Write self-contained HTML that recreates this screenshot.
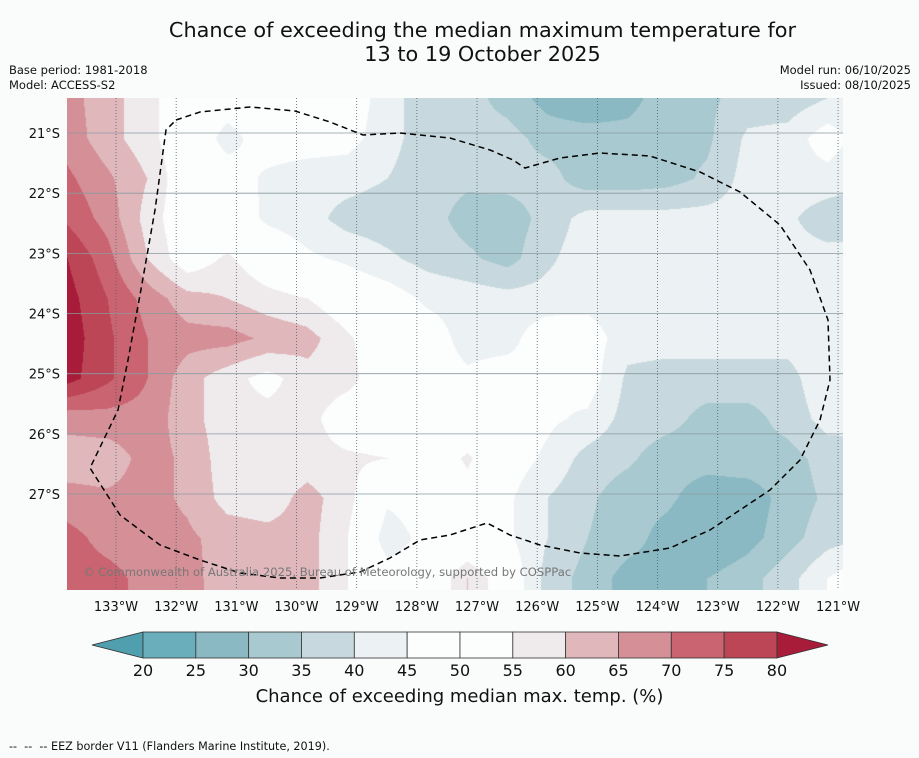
<!DOCTYPE html>
<html><head><meta charset="utf-8"><style>
body{margin:0;background:#fafbfb;font-family:"DejaVu Sans","Liberation Sans",sans-serif;}
#root{position:relative;width:919px;height:758px;overflow:hidden;background:#fafbfb;}
.t{position:absolute;color:#111;white-space:nowrap;}
</style></head><body>
<div id="root">
<div class="t" style="left:0;width:965px;top:18px;text-align:center;font-size:20.8px;line-height:24px;">Chance of exceeding the median maximum temperature for<br>13 to 19 October 2025</div>
<div class="t" style="left:9px;top:63px;font-size:11.5px;line-height:15px;">Base period: 1981-2018<br>Model: ACCESS-S2</div>
<div class="t" style="right:8px;top:63px;font-size:11.5px;line-height:15px;text-align:right;">Model run: 06/10/2025<br>Issued: 08/10/2025</div>
<canvas id="map" width="776" height="492" style="position:absolute;left:67px;top:98px;"></canvas>
<svg id="ov" width="919" height="758" style="position:absolute;left:0;top:0;font-family:'DejaVu Sans','Liberation Sans',sans-serif;"></svg>
<div class="t" style="left:83px;top:565px;font-size:11.6px;color:#777;">© Commonwealth of Australia 2025, Bureau of Meteorology, supported by COSPPac</div>
<div class="t" style="left:0;width:919px;top:686px;text-align:center;font-size:18px;">Chance of exceeding median max. temp. (%)</div>
<div class="t" style="left:9px;top:740px;font-size:11.2px;">--&nbsp; --&nbsp; -- EEZ border V11 (Flanders Marine Institute, 2019).</div>
</div>
<script>
const nodeLon=[67,107,147,187,227,267,307,347,387,427,467,507,547,587,627,667,707,747,787,827,867];
const nodeLat=[98,138,178,218,258,298,338,378,418,458,498,538,578,618];
const row0=[67,62,57,50,48,50,50,49,42,37,37,33,28,25,28,33,34,37,37,40,40];
const row1=[68,62,57,50,43,48,48,47,42,37,37,37,33,33,32,33,34,41,42,48,42];
const row2=[71,66,60,50,48,44,42,42,40,37,36,37,37,32,32,33,36,42,43,43,40];
const row3=[74,68,58,50,49,44,42,38,37,37,33,32,37,42,42,42,42,42,41,37,37];
const row4=[80,72,60,51,56,50,46,44,41,38,36,33,39,43,42,42,42,42,42,42,42];
const row5=[82,75,68,62,60,57,55,50,48,44,43,42,42,43,42,42,42,42,42,42,42];
const row6=[83,76,70,67,67,64,62,56,50,48,43,43,49,48,42,42,42,42,42,44,42];
const row7=[82,76,70,62,57,53,58,57,50,48,46,48,45,48,39,38,38,38,38,44,43];
const row8=[67,68,68,62,57,57,57,51,50,48,48,48,46,44,38,37,33,33,37,42,42];
const row9=[62,62,67,64,57,57,57,56,55,50,56,48,44,38,36,32,32,33,33,37,38];
const row10=[67,66,67,64,58,57,62,57,46,48,52,46,40,36,32,31,27,27,32,36,37];
const row11=[72,68,67,66,63,62,62,55,42,47,48,46,40,35,32,28,25,28,33,38,40];
const row12=[73,72,68,67,62,62,62,55,48,48,60,50,38,33,28,28,30,33,38,45,50];
const row13=[73,72,68,67,62,62,62,55,48,48,60,50,38,33,28,28,30,33,38,45,50];
const grid=[row0,row1,row2,row3,row4,row5,row6,row7,row8,row9,row10,row11,row12,row13];
const levels=[20,25,30,35,40,45,50,55,60,65,70,75,80];
const bandColors=["#4f9fae","#6aaebb","#8ab9c3","#a8c9cf","#c7d9de","#ecf1f3","#fcfdfd","#fcfdfd","#efebec","#e0b8bc","#d58f97","#c96470","#bd4656","#a81c3a"];
const cbLabels=["20","25","30","35","40","45","50","55","60","65","70","75","80"];
const lonTicks=["133°W","132°W","131°W","130°W","129°W","128°W","127°W","126°W","125°W","124°W","123°W","122°W","121°W"];
const latTicks=["21°S","22°S","23°S","24°S","25°S","26°S","27°S"];
const eezLon=[176,200,250,295,330,363,400,450,490,513,525,560,600,650,700,740,780,810,828,830,820,800,770,740,710,670,620,580,540,510,487,450,420,390,360,320,280,240,200,160,120,90,118,128,140,155,166,176];
const eezLat=[120,112,107,111,122,135,133,138,150,160,168,158,153,156,172,192,225,270,320,380,420,460,490,510,530,548,556,553,545,535,523,535,540,558,572,578,578,573,560,545,515,468,410,360,295,210,130,120];

function hex(c){return [parseInt(c.slice(1,3),16),parseInt(c.slice(3,5),16),parseInt(c.slice(5,7),16)];}
function band(v){let b=0;for(let i=0;i<levels.length;i++){if(v>=levels[i])b=i+1;}return b;}
function valAt(px,py){
  let i=0;while(i<nodeLon.length-2&&px>nodeLon[i+1])i++;
  let j=0;while(j<nodeLat.length-2&&py>nodeLat[j+1])j++;
  const tx=Math.min(1,Math.max(0,(px-nodeLon[i])/(nodeLon[i+1]-nodeLon[i])));
  const ty=Math.min(1,Math.max(0,(py-nodeLat[j])/(nodeLat[j+1]-nodeLat[j])));
  const a=grid[j][i],b=grid[j][i+1],c=grid[j+1][i],d=grid[j+1][i+1];
  return (a*(1-tx)+b*tx)*(1-ty)+(c*(1-tx)+d*tx)*ty;
}
const cv=document.getElementById('map');const ctx=cv.getContext('2d');
const img=ctx.createImageData(776,492);const rgb=bandColors.map(hex);
for(let y=0;y<492;y++)for(let x=0;x<776;x++){
  const c=rgb[band(valAt(x+67,y+98))];const k=(y*776+x)*4;
  img.data[k]=c[0];img.data[k+1]=c[1];img.data[k+2]=c[2];img.data[k+3]=255;}
ctx.putImageData(img,0,0);

const NS='http://www.w3.org/2000/svg';const ov=document.getElementById('ov');
function mk(tag,attrs){const e=document.createElementNS(NS,tag);for(const k in attrs)e.setAttribute(k,attrs[k]);ov.appendChild(e);return e;}
const xLon=i=>116+60.17*i, yLat=i=>133+60.17*i;
latTicks.forEach((t,i)=>{
  const l=mk('line',{x1:67,x2:843,y1:yLat(i),y2:yLat(i),stroke:'#8a9aa0','stroke-width':0.8});
  
  
  const tx=mk('text',{x:60,y:yLat(i)+5,'text-anchor':'end','font-size':13,fill:'#111'});tx.textContent=t;
  
  
});
lonTicks.forEach((t,i)=>{
  const l=mk('line',{x1:xLon(i),x2:xLon(i),y1:98,y2:590,stroke:'#4a6470','stroke-width':0.8,'stroke-dasharray':'1,2'});
  
  
  const tx=mk('text',{x:xLon(i),y:611,'text-anchor':'middle','font-size':13,fill:'#111'});tx.textContent=t;
  
  
});
const eez=mk('polyline',{points:eezLon.map((x,i)=>x+','+eezLat[i]).join(' '),fill:'none',stroke:'#000','stroke-width':1.5,'stroke-dasharray':'6,4'});


const cbX0=143,cbW=52.83,cbY=632,cbH=26;
const lt=mk('polygon',{points:`92,645 ${cbX0},${cbY} ${cbX0},${cbY+cbH}`,fill:bandColors[0],stroke:'#333','stroke-width':0.8});


for(let i=0;i<12;i++){
  const r=mk('rect',{x:cbX0+cbW*i,y:cbY,width:cbW,height:cbH,fill:bandColors[i+1],stroke:'#333','stroke-width':0.8});
  
  
}
const rt=mk('polygon',{points:`${cbX0+cbW*12},${cbY} ${cbX0+cbW*12},${cbY+cbH} 828,645`,fill:bandColors[13],stroke:'#333','stroke-width':0.8});


cbLabels.forEach((t,i)=>{
  const tx=mk('text',{x:cbX0+cbW*i,y:676,'text-anchor':'middle','font-size':16,fill:'#111'});tx.textContent=t;
  
  
});
</script>
</body></html>
